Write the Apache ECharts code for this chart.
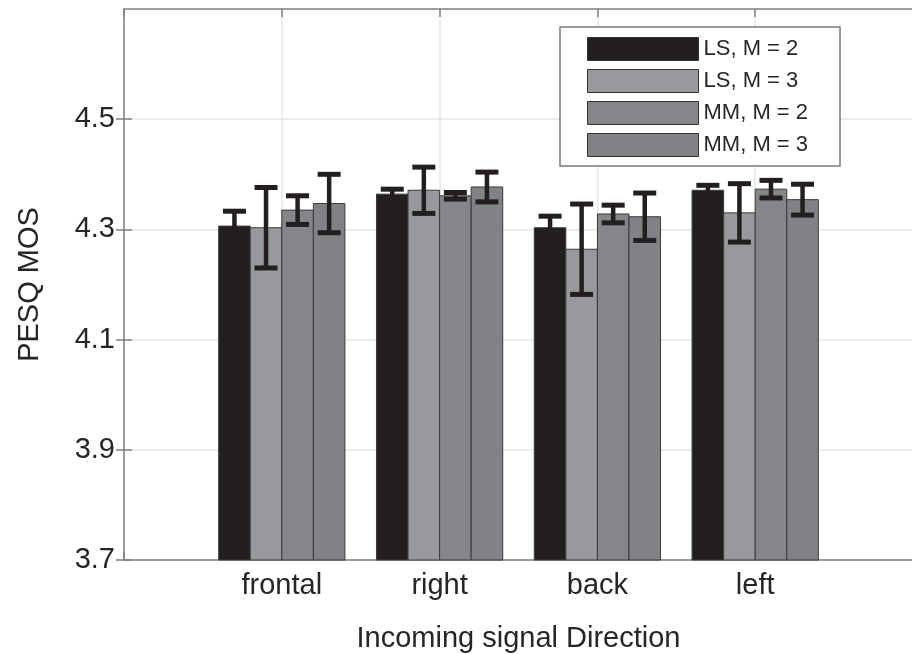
<!DOCTYPE html>
<html>
<head>
<meta charset="utf-8">
<script src="https://cdn.jsdelivr.net/npm/echarts@6/dist/echarts.min.js"></script>
<style>
  html, body { margin: 0; padding: 0; background: #fff; }
  #chart { width: 912px; height: 654px; }
</style>
</head>
<body>
<div id="chart"></div>
<script>
// directions on the x axis (placed at 1..4)
var categories = ['frontal', 'right', 'back', 'left'];
var seriesNames = ['LS, M = 2', 'LS, M = 3', 'MM, M = 2', 'MM, M = 3'];

// mean PESQ MOS per direction
var lsM2 = [4.306, 4.364, 4.303, 4.371];
var lsM3 = [4.303, 4.371, 4.264, 4.330];
var mmM2 = [4.335, 4.361, 4.328, 4.373];
var mmM3 = [4.347, 4.377, 4.323, 4.354];

// half length of the error bars
var lsM2Err = [0.027, 0.009, 0.021, 0.009];
var lsM3Err = [0.073, 0.042, 0.082, 0.053];
var mmM2Err = [0.026, 0.006, 0.016, 0.016];
var mmM3Err = [0.053, 0.027, 0.043, 0.028];

var yTicks = [3.7, 3.9, 4.1, 4.3, 4.5];

var colors = ['#231f20', '#97999c', '#858689', '#808285'];
var yMin = 3.7, yMax = 4.7;
var barUnit = 0.2;

var chart = echarts.init(document.getElementById('chart'));

function makeRender(idx) {
  return function (params, api) {
    var x = api.value(0), v = api.value(1), e = api.value(2);
    var cx = x + (idx - 1.5) * barUnit;
    var tl = api.coord([cx - barUnit / 2, v]);
    var br = api.coord([cx + barUnit / 2, yMin]);
    var hi = api.coord([cx, v + e]);
    var lo = api.coord([cx, v - e]);
    var cap = 11.5;
    var stemStyle = { stroke: '#231f20', lineWidth: 4.5 };
    var capStyle = { stroke: '#231f20', lineWidth: 5 };
    return {
      type: 'group',
      children: [
        {
          type: 'rect',
          shape: { x: tl[0], y: tl[1], width: br[0] - tl[0], height: br[1] - tl[1] },
          style: { fill: colors[idx], stroke: '#3a3a3a', lineWidth: 1 }
        },
        { type: 'line', shape: { x1: hi[0], y1: hi[1], x2: lo[0], y2: lo[1] }, style: stemStyle },
        { type: 'line', shape: { x1: hi[0] - cap, y1: hi[1], x2: hi[0] + cap, y2: hi[1] }, style: capStyle },
        { type: 'line', shape: { x1: lo[0] - cap, y1: lo[1], x2: lo[0] + cap, y2: lo[1] }, style: capStyle }
      ]
    };
  };
}

function toData(vals, errs) {
  return vals.map(function (v, i) { return [i + 1, v, errs[i]]; });
}

var allVals = [lsM2, lsM3, mmM2, mmM3];
var allErrs = [lsM2Err, lsM3Err, mmM2Err, mmM3Err];

var series = seriesNames.map(function (name, idx) {
  return {
    name: name,
    type: 'custom',
    renderItem: makeRender(idx),
    itemStyle: { color: colors[idx] },
    encode: { x: 0, y: 1 },
    data: toData(allVals[idx], allErrs[idx]),
    z: 3
  };
});

var axisGray = '#808080';
var textColor = '#262626';
var font = 'Liberation Sans, Arial, sans-serif';

var option = {
  animation: false,
  backgroundColor: '#fff',
  color: colors,
  grid: { left: 124, top: 9, width: 789, height: 551, show: false, containLabel: false, outerBoundsMode: 'none' },
  legend: {
    orient: 'vertical',
    left: 560,
    top: 27,
    padding: [10, 32, 9, 27],
    itemGap: 8,
    itemWidth: 111,
    itemHeight: 23,
    icon: 'rect',
    backgroundColor: '#fff',
    borderColor: '#7a7a7a',
    borderWidth: 1.5,
    borderRadius: 0,
    itemStyle: { borderColor: '#333', borderWidth: 1 },
    textStyle: { fontSize: 22, color: textColor, fontFamily: font },
    data: seriesNames
  },
  xAxis: [
    {
      type: 'value',
      min: 0, max: 5, interval: 1,
      name: 'Incoming signal Direction',
      nameLocation: 'middle',
      nameGap: 64,
      nameTextStyle: { fontSize: 29, color: textColor, fontFamily: font },
      axisLine: { show: true, lineStyle: { color: axisGray, width: 1.5 } },
      axisTick: { show: true, inside: true, length: 8, lineStyle: { color: axisGray, width: 1.5 } },
      axisLabel: {
        margin: 11, fontSize: 29, color: textColor, fontFamily: font,
        formatter: function (v) { return categories[v - 1] || ''; }
      },
      splitLine: { show: true, lineStyle: { color: '#e6e6e6', width: 1.5 } }
    },
    {
      type: 'value', position: 'top',
      min: 0, max: 5, interval: 1,
      axisLine: { show: true, lineStyle: { color: axisGray, width: 1.5 } },
      axisTick: { show: true, inside: true, length: 8, lineStyle: { color: axisGray, width: 1.5 } },
      axisLabel: { show: false },
      splitLine: { show: false }
    }
  ],
  yAxis: [
    {
      type: 'value',
      min: yMin, max: yMax,
      name: 'PESQ MOS',
      nameLocation: 'middle',
      nameGap: 80,
      nameTextStyle: { fontSize: 29, color: textColor, fontFamily: font },
      axisLine: { show: true, lineStyle: { color: axisGray, width: 1.5 } },
      axisTick: { show: true, inside: true, length: 8, customValues: yTicks, lineStyle: { color: axisGray, width: 1.5 } },
      axisLabel: {
        margin: 9, fontSize: 29, color: textColor, fontFamily: font, customValues: yTicks,
        formatter: function (v) { return v.toFixed(1); }
      },
      splitLine: { show: true, lineStyle: { color: '#e6e6e6', width: 1.5 } }
    },
    {
      type: 'value', position: 'right',
      min: yMin, max: yMax,
      axisLine: { show: false },
      axisTick: { show: true, inside: true, length: 8, customValues: yTicks, lineStyle: { color: axisGray, width: 1.5 } },
      axisLabel: { show: false },
      splitLine: { show: false }
    }
  ],
  series: series
};

chart.setOption(option);
</script>
</body>
</html>
